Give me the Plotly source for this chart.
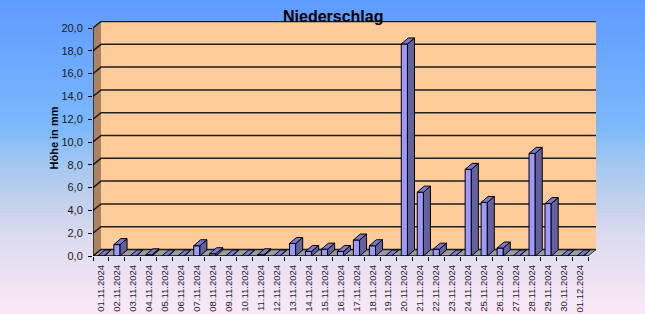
import plotly.graph_objects as go

# ---- data ----
dates = ["01.11.2024", "02.11.2024", "03.11.2024", "04.11.2024", "05.11.2024",
         "06.11.2024", "07.11.2024", "08.11.2024", "09.11.2024", "10.11.2024",
         "11.11.2024", "12.11.2024", "13.11.2024", "14.11.2024", "15.11.2024",
         "16.11.2024", "17.11.2024", "18.11.2024", "19.11.2024", "20.11.2024",
         "21.11.2024", "22.11.2024", "23.11.2024", "24.11.2024", "25.11.2024",
         "26.11.2024", "27.11.2024", "28.11.2024", "29.11.2024", "30.11.2024",
         "01.12.2024"]
rain_mm = [0.0, 1.0, 0.0, 0.1, 0.0, 0.0, 0.9, 0.2, 0.0, 0.0,
           0.1, 0.0, 1.1, 0.4, 0.6, 0.4, 1.4, 0.9, 0.0, 18.6,
           5.6, 0.6, 0.0, 7.6, 4.7, 0.7, 0.0, 9.0, 4.6, 0.0, 0.0]
y_ticks = [0, 2, 4, 6, 8, 10, 12, 14, 16, 18, 20]

# ---- geometry (pixels) ----
W, H = 645, 314
L, R, T, B = 93, 49, 21, 58
PXX = 15.968   # px per category
PXY = 11.4     # px per mm
n = len(dates)
pw, ph = W - L - R, H - T - B
xmax, ymax = pw / PXX, ph / PXY
ytop = y_ticks[-1]
DX, DY = 8 / PXX, 6.5 / PXY          # wall depth
BW = 6.2 / PXX                        # bar front width
BDX, BDY = 7 / PXX, 6 / PXY           # bar depth

FONT = "Arial, 'Liberation Sans', sans-serif"

fig = go.Figure()

# ---- background gradient (paper) ----
stops = [(0, (94, 155, 255)), (110, (120, 180, 255)), (130, (126, 186, 250)),
         (167, (166, 200, 240)), (200, (192, 208, 236)), (233, (216, 218, 238)),
         (267, (232, 224, 242)), (300, (246, 230, 246)), (314, (250, 232, 250))]


def col_at(py):
    for (a, ca), (b, cb) in zip(stops[:-1], stops[1:]):
        if a <= py <= b:
            t = (py - a) / (b - a) if b > a else 0
            return "rgb(%d,%d,%d)" % tuple(round(ca[k] + (cb[k] - ca[k]) * t) for k in range(3))
    return "rgb(%d,%d,%d)" % stops[-1][1]


shapes = []
NB = 105
for j in range(NB):
    p0 = H * j / NB
    p1 = H * (j + 1) / NB + 0.6
    shapes.append(dict(type="rect", xref="paper", yref="paper", layer="below",
                       x0=-L / pw, x1=(W - L) / pw,
                       y0=(H - B - p1) / ph, y1=(H - B - p0) / ph,
                       fillcolor=col_at((p0 + p1) / 2), line=dict(width=0)))


def poly(xs, ys, fill, line_color="rgba(0,0,0,0)", lw=0):
    fig.add_trace(go.Scatter(x=xs, y=ys, mode="lines", fill="toself",
                             fillcolor=fill, line=dict(color=line_color, width=lw),
                             hoverinfo="skip", showlegend=False))


def lines(xs, ys, color, lw):
    fig.add_trace(go.Scatter(x=xs, y=ys, mode="lines",
                             line=dict(color=color, width=lw),
                             hoverinfo="skip", showlegend=False))


# wall shadow
lines([n + DX + 1.6 / PXX] * 2, [DY - 0.2, ytop + DY - 0.1], "rgba(70,70,70,0.55)", 3)
# back wall
poly([DX, n + DX, n + DX, DX, DX], [DY, DY, ytop + DY, ytop + DY, DY], "#FFCC99")
# left wall
poly([0, DX, DX, 0, 0], [0, DY, ytop + DY, ytop, 0], "#A88462")
# floor
poly([0, n, n + DX, DX, 0], [0, 0, DY, DY, 0], "#9C9C9C", "#333333", 1)

# gridlines on walls
gx, gy = [], []
for k in y_ticks:
    gx += [0, DX, n + DX, None]
    gy += [k, k + DY, k + DY, None]
lines(gx, gy, "#1E1E1E", 1.5)

# bars
fx, fy, sx, sy, tx, ty = [], [], [], [], [], []
for i, v in enumerate(rain_mm):
    c = i + 0.5
    x0, x1 = c - BW / 2, c + BW / 2
    fx += [x0, x1, x1, x0, x0, None]
    fy += [0, 0, v, v, 0, None]
    sx += [x1, x1 + BDX, x1 + BDX, x1, x1, None]
    sy += [0, BDY, v + BDY, v, 0, None]
    tx += [x0, x1, x1 + BDX, x0 + BDX, x0, None]
    ty += [v, v, v + BDY, v + BDY, v, None]
poly(fx, fy, "#9999FF", "#000000", 1)
poly(sx, sy, "#62629F", "#000000", 1)
poly(tx, ty, "#7878D4", "#000000", 1)

# front axis lines
lines([0, 0], [0, ytop], "#000000", 1.2)
lines([0, n], [0, 0], "#000000", 1.2)

fig.update_layout(
    width=W, height=H,
    margin=dict(l=L, r=R, t=T, b=B, pad=0, autoexpand=False),
    paper_bgcolor="rgb(250,232,250)",
    plot_bgcolor="rgba(0,0,0,0)",
    separators=",.",
    shapes=shapes,
    font=dict(family=FONT, color="#111111"),
    showlegend=False,
    xaxis=dict(range=[0, xmax], tickvals=[i + 0.5 for i in range(n)], ticktext=dates,
               tickangle=-90, ticks="", showgrid=False, zeroline=False, showline=False,
               automargin=False,
               tickfont=dict(size=9.5, color="#222222", family=FONT),
               ticklabelstandoff=6,
               minor=dict(ticks="outside", ticklen=4, tickcolor="#000000", tick0=0, dtick=1,
                          showgrid=False),
               fixedrange=True),
    yaxis=dict(range=[0, ymax], tickvals=y_ticks, tickformat=".1f",
               ticks="outside", ticklen=4, tickcolor="#000000",
               showgrid=False, zeroline=False, showline=False,
               automargin=False,
               tickfont=dict(size=11, color="#1A1A1A", family=FONT),
               ticklabelstandoff=3,
               fixedrange=True),
    annotations=[
        dict(text="<b>Niederschlag</b>", xref="paper", yref="paper",
             x=(332.5 - L) / pw, y=(H - B - 16) / ph, xanchor="center", yanchor="middle",
             showarrow=False, font=dict(size=16, color="#000000", family=FONT)),
        dict(text="<b>Höhe in mm</b>", xref="paper", yref="paper",
             x=(53 - L) / pw, y=0.5, xanchor="center", yanchor="middle", textangle=-90,
             showarrow=False, font=dict(size=11, color="#000000", family=FONT)),
    ],
)

fig.write_html("out.html")
